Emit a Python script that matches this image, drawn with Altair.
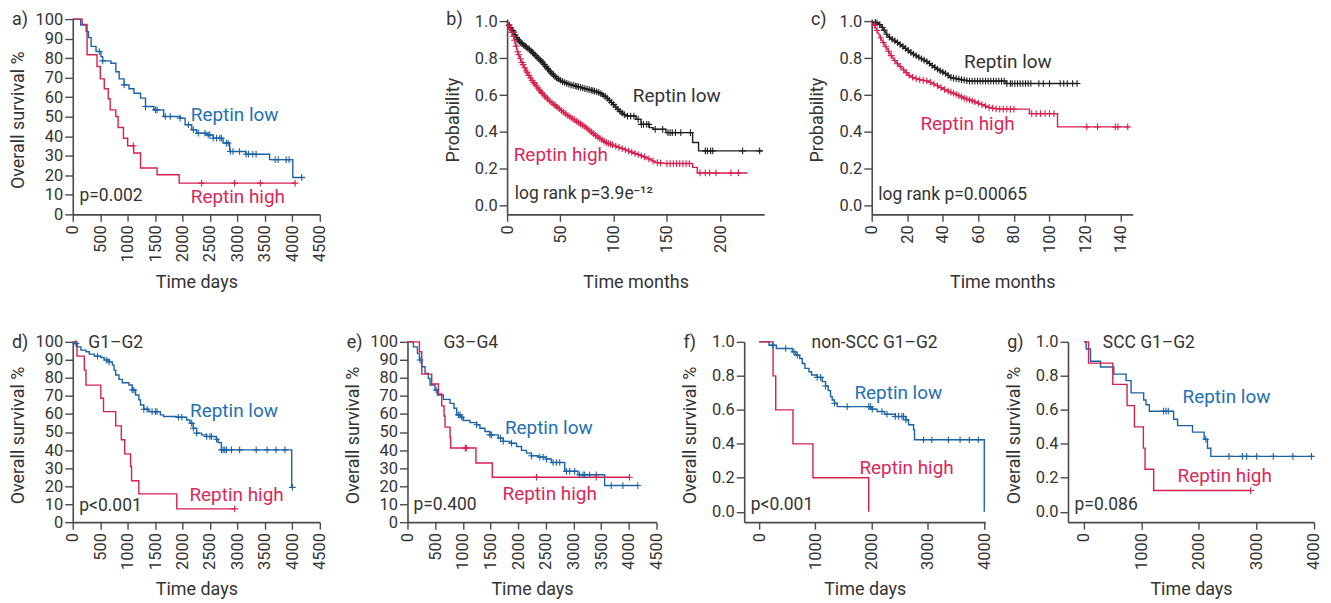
import altair as alt
import numpy as np
import pandas as pd

FONT = "Roboto"
BLUE, RED, BLACK = "#1c63a3", "#d6204d", "#1e1e1e"
BLUE_T, RED_T, DARK = "#2470b2", "#d9285a", "#333333"

# ---------------- a) all patients, days ----------------
A_LOW_T = [0, 145, 244, 286, 334, 424, 514, 544, 694, 785, 845, 935, 1025, 1115, 1235, 1325, 1476,
           1656, 1956, 2047, 2167, 2257, 2437, 2558, 2738, 2858, 3150, 3585, 4008, 4230]
A_LOW_S = [100, 97, 93.6, 90.5, 86, 83.4, 80.8, 78.6, 77.4, 73, 69.4, 66.3, 64.3, 62, 59.5, 55.2, 53.5,
           50.1, 49.3, 45.9, 43.3, 41.6, 40.7, 39, 36.5, 32.2, 30.8, 28, 18.9, 18.9]
A_LOW_C = [484, 544, 935, 1325, 1506, 1536, 1686, 1776, 1956, 2107, 2197, 2287, 2407, 2467, 2497, 2558,
           2618, 2678, 2708, 2798, 2830, 2870, 2918, 3038, 3158, 3200, 3279, 3339, 3687, 3742, 3887, 3941, 4170]
A_HIGH_T = [0, 171, 261, 442, 502, 574, 646, 682, 784, 826, 923, 1000, 1110, 1235, 1536, 1938, 4050]
A_HIGH_S = [100, 97.3, 81.7, 75.7, 69.4, 64.3, 59.2, 53.5, 50.1, 44.5, 39.0, 35.1, 31.4, 23.7, 20.3, 16.0, 16.0]
A_HIGH_C = [1103, 2347, 2948, 3417, 4050]

# ---------------- b) months ----------------
B_LOW_T = [0, 5.6, 10.3, 15, 21.2, 27.5, 33.7, 39.9, 46.2, 52.4, 58.7, 68, 75.8, 82, 86.7, 93, 99.2, 105.5,
           111.7, 121, 121, 125.7, 125.7, 133.5, 133.5, 137, 137, 149.1, 149.1, 174.1, 174.1, 179.7, 179.7, 239.6]
B_LOW_S = [1.0, 0.946, 0.9, 0.874, 0.847, 0.81, 0.775, 0.73, 0.694, 0.672, 0.658, 0.643, 0.631, 0.622, 0.613,
           0.589, 0.553, 0.514, 0.486, 0.486, 0.468, 0.468, 0.441, 0.441, 0.423, 0.423, 0.414, 0.414, 0.396,
           0.396, 0.342, 0.342, 0.297, 0.297]
B_LOW_C = [2, 3.5, 5, 6, 7.5, 9, 10, 11.5, 13, 14, 15.5, 17, 18, 19.5, 21, 22.5, 24, 25, 26.5, 28, 29.5, 31,
           32, 33.5, 35, 36.5, 38, 39, 40.5, 42, 43.5, 45, 46.5, 48, 50, 52, 54, 56, 58, 60, 62, 64, 65.5, 67,
           69, 71, 73, 75, 77, 79, 80.5, 82, 84, 86, 88, 90, 92, 94, 96, 98, 100, 102, 104, 106, 108, 110, 113,
           116, 119, 123, 126, 128, 131, 133, 139, 146, 151, 153, 155, 158, 163, 172, 186, 188, 191, 193, 221, 237]
B_HIGH_T = [0, 2.5, 5.6, 8.1, 10.3, 13.4, 18.1, 22.8, 27.5, 33.7, 39.9, 47.7, 55.5, 64.9, 74.3, 83.6, 93,
            105.5, 117.9, 130.4, 139.8, 149.1, 174.1, 174.1, 178.5, 178.5, 225.6]
B_HIGH_S = [1.0, 0.964, 0.928, 0.874, 0.829, 0.784, 0.73, 0.685, 0.649, 0.604, 0.568, 0.532, 0.495, 0.459,
            0.423, 0.378, 0.342, 0.315, 0.288, 0.261, 0.234, 0.228, 0.228, 0.207, 0.207, 0.177, 0.177]
B_HIGH_C = [1.5, 3, 4.5, 6, 7, 8.5, 10, 11, 12.5, 14, 15, 16.5, 18, 19, 20.5, 22, 23.5, 25, 26, 27.5, 29,
            30.5, 32, 33, 35, 36.5, 38, 40, 42, 44, 45.5, 47, 49, 51, 53, 55, 57, 59, 61, 63, 65, 67, 69, 71,
            73, 75, 77, 79, 81, 83, 85, 87, 89, 91, 93, 95, 97, 99, 102, 105, 108, 111, 114, 117, 120, 123,
            126, 129, 133, 137, 141, 144, 150, 153, 156, 159, 162, 165, 168, 171, 181, 186, 190, 196, 210, 217]

# ---------------- c) months ----------------
C_LOW_T = [0, 3.7, 5.6, 7.5, 9.3, 12.1, 14.9, 18.7, 22.4, 27.1, 30.8, 34.5, 38.3, 42, 44.8, 50, 55.1,
           75.6, 75.6, 115.7]
C_LOW_S = [1.0, 0.991, 0.973, 0.946, 0.919, 0.9, 0.883, 0.856, 0.829, 0.802, 0.784, 0.757, 0.733, 0.715,
           0.694, 0.685, 0.676, 0.676, 0.663, 0.663]
C_LOW_C = [2, 3, 4.5, 6, 7, 8.5, 10, 11.5, 13, 14.5, 16, 17.5, 19, 20.5, 22, 23.5, 25, 26.5, 28, 29.5, 31,
           32.5, 34, 35.5, 37, 38.5, 40, 41.5, 43, 44.5, 46, 47.5, 49, 50.5, 52, 53.5, 55, 56.5, 58, 59.5, 61,
           62.5, 64, 65.5, 67, 68.5, 70, 71.5, 73, 74.5, 76, 78, 79, 80.5, 82, 83.5, 85, 86.5, 88, 89.5, 94,
           96.5, 100, 106, 108, 110, 113, 115.5]
C_HIGH_T = [0, 1.9, 3.7, 5.6, 8.4, 11.2, 14, 17.7, 21.5, 26.1, 31.7, 37.3, 42, 47.6, 52.3, 56.9, 61.6,
            66.3, 70.9, 88.7, 88.7, 104.5, 104.5, 144.7]
C_HIGH_S = [1.0, 0.973, 0.937, 0.9, 0.856, 0.811, 0.775, 0.739, 0.703, 0.685, 0.676, 0.649, 0.625, 0.604,
            0.582, 0.568, 0.55, 0.532, 0.524, 0.524, 0.499, 0.499, 0.427, 0.427]
C_HIGH_C = [1.5, 3, 5, 6.5, 8, 9.5, 11, 13, 14.5, 16, 18, 19.5, 21, 23, 25, 27, 29, 31, 33, 35, 37, 39, 41,
            43, 44.5, 46, 47.5, 49, 50.5, 52, 53.5, 55, 56.5, 58, 60, 62, 64, 66, 68, 70, 72, 74, 76, 78, 80,
            90, 92.5, 95, 97.5, 100, 102.5, 121, 127, 137, 138.5, 144]

# ---------------- d) G1-G2, days ----------------
D_LOW_T = [0, 42, 78, 150, 241, 301, 391, 512, 572, 662, 722, 752, 782, 842, 902, 1023, 1083, 1144, 1204,
           1234, 1294, 1385, 1595, 1655, 1895, 2075, 2135, 2196, 2256, 2346, 2436, 2617, 2647, 2707, 3988, 4000]
D_LOW_S = [100, 99, 97.2, 95.4, 94.5, 93.2, 92.1, 91.3, 89.9, 88.9, 87.1, 84.3, 81.6, 79.2, 77.3, 76.1,
           73.3, 70.5, 67.8, 65, 62.6, 61.3, 59.5, 58.6, 58.2, 56.7, 54.9, 52.1, 49.4, 48.4, 47.5, 46, 44.2,
           40.1, 19.3, 19.3]
D_LOW_C = [60, 451, 620, 662, 1083, 1114, 1294, 1355, 1445, 1505, 1535, 1926, 1987, 2167, 2197, 2257, 2438,
           2498, 2528, 2618, 2709, 2739, 2769, 2800, 2890, 3040, 3341, 3540, 3702, 3865, 4000]
D_HIGH_T = [0, 78, 211, 241, 512, 560, 782, 885, 945, 1053, 1071, 1204, 1895, 2950]
D_HIGH_S = [100, 92.1, 84.3, 76.0, 68.7, 61.3, 53.4, 45.7, 37.9, 30.9, 23.0, 15.7, 7.4, 7.4]
D_HIGH_C = [2950]

# ---------------- e) G3-G4, days ----------------
E_LOW_T = [0, 108, 180, 216, 258, 318, 378, 408, 498, 541, 649, 769, 841, 889, 961, 1009, 1129, 1249, 1309,
           1399, 1489, 1640, 1730, 1850, 1970, 2060, 2150, 2240, 2360, 2510, 2601, 2841, 3081, 3562, 4162]
E_LOW_S = [100, 97.2, 93.6, 89.9, 86.2, 82.5, 79.7, 76.1, 73.3, 70.5, 68.1, 65.9, 63.2, 59.5, 58.2, 56.4,
           55.2, 54.0, 52.1, 50.3, 48.4, 46.6, 44.8, 43.8, 42.0, 39.8, 38.3, 36.8, 36.1, 35.0, 33.1, 28.2,
           26.3, 20.3, 20.3]
E_LOW_C = [228, 517, 919, 949, 979, 1249, 1489, 1520, 1682, 1730, 1880, 2240, 2390, 2450, 2511, 2631, 2691,
           2751, 2871, 2931, 3021, 3111, 3171, 3201, 3291, 3411, 3682, 3892, 4162]
E_HIGH_T = [0, 216, 258, 438, 559, 619, 661, 679, 769, 781, 1237, 1532, 4012]
E_HIGH_S = [100, 94.5, 82.1, 76.6, 71.1, 64.5, 58.9, 52.7, 47.1, 41.1, 32.8, 24.9, 24.9]
E_HIGH_C = [1045, 1063, 2330, 3410, 4012]

# ---------------- f) non-SCC G1-G2, days ----------------
F_LOW_T = [0, 177, 307, 590, 649, 720, 767, 814, 885, 932, 1033, 1121, 1180, 1227, 1269, 1298, 1339, 1387,
           2006, 2095, 2230, 2419, 2608, 2655, 2744, 2761, 4000]
F_LOW_S = [1.0, 0.98, 0.961, 0.941, 0.922, 0.902, 0.873, 0.844, 0.824, 0.805, 0.791, 0.766, 0.74, 0.713,
           0.678, 0.658, 0.639, 0.619, 0.604, 0.59, 0.574, 0.561, 0.541, 0.512, 0.482, 0.424, 0.0]
F_LOW_C = [236, 472, 620, 679, 1033, 1092, 1180, 1339, 1564, 1947, 1977, 2010, 2183, 2272, 2419, 2478, 2537,
           2567, 2608, 2921, 3068, 3363, 3570, 3735, 3894]
F_HIGH_T = [0, 248, 295, 602, 956, 1947]
F_HIGH_S = [1.0, 0.8, 0.6, 0.4, 0.2, 0.0]
F_HIGH_C = []

# ---------------- g) SCC G1-G2, days ----------------
G_LOW_T = [0, 40, 116, 289, 520, 734, 821, 1040, 1081, 1139, 1561, 1630, 1890, 2092, 2150, 2208, 3988]
G_LOW_S = [1.0, 0.958, 0.886, 0.852, 0.81, 0.772, 0.7, 0.658, 0.63, 0.592, 0.545, 0.507, 0.469, 0.427,
           0.374, 0.326, 0.326]
G_LOW_C = [1387, 1428, 1468, 2121, 2526, 2757, 2832, 3006, 3295, 3636, 3959]
G_HIGH_T = [0, 81, 503, 751, 879, 1035, 1064, 1214, 2902]
G_HIGH_S = [1.0, 0.875, 0.75, 0.625, 0.5, 0.375, 0.25, 0.125, 0.125]
G_HIGH_C = [2902]

DAYS_TICKS = [0, 500, 1000, 1500, 2000, 2500, 3000, 3500, 4000, 4500]
PCT_TICKS = [0, 10, 20, 30, 40, 50, 60, 70, 80, 90, 100]
PROB_TICKS = [0.0, 0.2, 0.4, 0.6, 0.8, 1.0]


def step_lookup(ts, ss, x):
    v = ss[0]
    for t, s in zip(ts, ss):
        if t <= x:
            v = s
    return v


def panel(key, curves, interp, xdom, xticks, ydom, yticks, yfmt, ytitle, xtitle, w, h, letter, notes):
    rows, crows = [], []
    for g, ts, ss, cens, col in curves:
        for i, (t, s) in enumerate(zip(ts, ss)):
            rows.append({"g": key + g, "t": t, "s": s, "i": i})
        for c in cens:
            v = float(np.interp(c, ts, ss)) if interp == "linear" else step_lookup(ts, ss, c)
            crows.append({"g": key + g, "t": c, "s": v})
    cscale = alt.Scale(domain=[key + c[0] for c in curves], range=[c[4] for c in curves])
    xax = alt.Axis(values=xticks, format="d", labelAngle=-90, labelAlign="right", labelBaseline="middle",
                   title=xtitle, titleX=w / 2, titleY=68, titleAlign="center", titleBaseline="middle",
                   tickSize=7, labelPadding=3.5, labelOverlap=False, labelFlush=False)
    yax = alt.Axis(values=yticks, format=yfmt, title=ytitle, titleX=-54, titleY=h / 2 + 3,
                   titleAngle=-90, titleAlign="center", titleBaseline="middle",
                   tickSize=8, labelPadding=2, labelOverlap=False, labelFlush=False)
    X = alt.X("t:Q", scale=alt.Scale(domain=xdom, nice=False, zero=False), axis=xax)
    Y = alt.Y("s:Q", scale=alt.Scale(domain=ydom, nice=False, zero=False), axis=yax)
    line_mark = (alt.Chart(pd.DataFrame(rows))
                 .mark_line(interpolate=interp, strokeWidth=1.4)
                 .encode(x=X, y=Y, color=alt.Color("g:N", scale=cscale, legend=None),
                         order=alt.Order("i:Q")))
    layers = [line_mark]
    if crows:
        layers.append(alt.Chart(pd.DataFrame(crows))
                      .mark_point(shape="M-1,0L1,0M0,-1L0,1", filled=False, size=45, strokeWidth=1.1,
                                  opacity=1)
                      .encode(x=X, y=Y, color=alt.Color("g:N", scale=cscale, legend=None)))
    ndf = pd.DataFrame([{"t": t, "s": s, "txt": txt, "col": col, "fs": fs} for t, s, txt, col, fs in notes])
    layers.append(alt.Chart(ndf).mark_text(align="left", baseline="alphabetic", font=FONT)
                  .encode(x=X, y=Y, text="txt:N", fill=alt.Fill("col:N", scale=None),
                          size=alt.Size("fs:Q", scale=None)))
    layers.append(alt.Chart(pd.DataFrame({"l": [letter]}))
                  .mark_text(align="left", baseline="alphabetic", font=FONT, fontSize=18, color=DARK)
                  .encode(x=alt.value(-61), y=alt.value(6), text="l:N"))
    return alt.layer(*layers).properties(width=w, height=h)


def spacer(w):
    return (alt.Chart(pd.DataFrame({"z": [0]})).mark_point(opacity=0)
            .encode(x=alt.value(0), y=alt.value(0)).properties(width=w, height=1))


NOTE = 19
PV = 17.5
pa = panel("a", [("low", A_LOW_T, A_LOW_S, A_LOW_C, BLUE), ("high", A_HIGH_T, A_HIGH_S, A_HIGH_C, RED)],
           "step-after", [0, 4500], DAYS_TICKS, [0, 100], PCT_TICKS, "d", "Overall survival %", "Time days",
           248, 196, "a)",
           [(2149, 47.6, "Reptin low", BLUE_T, NOTE), (2149, 5.8, "Reptin high", RED_T, NOTE),
            (123, 7, "p=0.002", DARK, PV)])
pb = panel("b", [("low", B_LOW_T, B_LOW_S, B_LOW_C, BLACK), ("high", B_HIGH_T, B_HIGH_S, B_HIGH_C, RED)],
           "linear", [0, 241.2], [0, 50, 100, 150, 200], [-0.048, 1.013], PROB_TICKS, ".1f", "Probability",
           "Time months", 258, 196, "b)",
           [(118, 0.564, "Reptin low", DARK, NOTE), (6.2, 0.24, "Reptin high", RED_T, NOTE),
            (7.2, 0.036, "log rank p=3.9e\u207b\u00b9\u00b2", DARK, PV)])
pc = panel("c", [("low", C_LOW_T, C_LOW_S, C_LOW_C, BLACK), ("high", C_HIGH_T, C_HIGH_S, C_HIGH_C, RED)],
           "linear", [0, 146.8], [0, 20, 40, 60, 80, 100, 120, 140], [-0.048, 1.013], PROB_TICKS, ".1f",
           "Probability", "Time months", 262, 196, "c)",
           [(51.9, 0.748, "Reptin low", DARK, NOTE), (27.4, 0.409, "Reptin high", RED_T, NOTE),
            (3.7, 0.031, "log rank p=0.00065", DARK, PV)])
pd_ = panel("d", [("low", D_LOW_T, D_LOW_S, D_LOW_C, BLUE), ("high", D_HIGH_T, D_HIGH_S, D_HIGH_C, RED)],
            "step-after", [0, 4500], DAYS_TICKS, [0, 100], PCT_TICKS, "d", "Overall survival %", "Time days",
            248, 181, "d)",
            [(283, 96.5, "G1\u2013G2", DARK, PV), (2137, 58.6, "Reptin low", BLUE_T, NOTE),
             (2125, 11.6, "Reptin high", RED_T, NOTE), (120, 6.1, "p<0.001", DARK, PV)])
pe = panel("e", [("low", E_LOW_T, E_LOW_S, E_LOW_C, BLUE), ("high", E_HIGH_T, E_HIGH_S, E_HIGH_C, RED)],
           "step-after", [0, 4500], DAYS_TICKS, [0, 100], PCT_TICKS, "d", "Overall survival %", "Time days",
           250, 181, "e)",
           [(649, 96.7, "G3\u2013G4", DARK, PV), (1760, 48.8, "Reptin low", BLUE_T, NOTE),
            (1718, 12.5, "Reptin high", RED_T, NOTE), (108, 6.6, "p=0.400", DARK, PV)])
pf = panel("f", [("low", F_LOW_T, F_LOW_S, F_LOW_C, BLUE), ("high", F_HIGH_T, F_HIGH_S, F_HIGH_C, RED)],
           "step-after", [-265, 4018], [0, 1000, 2000, 3000, 4000], [-0.061, 1.0], PROB_TICKS, ".1f",
           "Overall survival %", "Time days", 242, 181, "f)",
           [(932, 0.965, "non-SCC G1\u2013G2", DARK, PV), (1693, 0.662, "Reptin low", BLUE_T, NOTE),
            (1782, 0.225, "Reptin high", RED_T, NOTE), (-148, 0.01, "p<0.001", DARK, PV)])
pg = panel("g", [("low", G_LOW_T, G_LOW_S, G_LOW_C, BLUE), ("high", G_HIGH_T, G_HIGH_S, G_HIGH_C, RED)],
           "step-after", [-277, 4004], [0, 1000, 2000, 3000, 4000], [-0.061, 1.0], PROB_TICKS, ".1f",
           "Overall survival %", "Time days", 247, 181, "g)",
           [(329, 0.965, "SCC G1\u2013G2", DARK, PV), (1717, 0.643, "Reptin low", BLUE_T, NOTE),
            (1630, 0.174, "Reptin high", RED_T, NOTE), (-162, 0.01, "p=0.086", DARK, PV)])

row1 = alt.hconcat(pa, spacer(187.8), pb, spacer(108), pc, spacing=0, bounds="flush").resolve_scale(
    x="independent", y="independent", color="independent")
row2 = alt.hconcat(pd_, spacer(87.3), pe, spacer(88), pf, spacer(83), pg, spacing=0, bounds="flush").resolve_scale(
    x="independent", y="independent", color="independent")

chart = (alt.vconcat(row1, row2, spacing=42)
         .resolve_scale(x="independent", y="independent", color="independent")
         .properties(padding={"left": 1, "top": 2, "right": 0, "bottom": 0})
         .configure_view(stroke=None)
         .configure_axis(grid=False, domainColor="#4a4a4a", tickColor="#4a4a4a", domainWidth=1.6,
                         tickWidth=1.4, labelFont=FONT, titleFont=FONT, labelFontSize=16.5, titleFontSize=18,
                         labelColor=DARK, titleColor=DARK, titleFontWeight="normal"))

chart.save("out.html", embed_options={"renderer": "svg", "actions": False})
